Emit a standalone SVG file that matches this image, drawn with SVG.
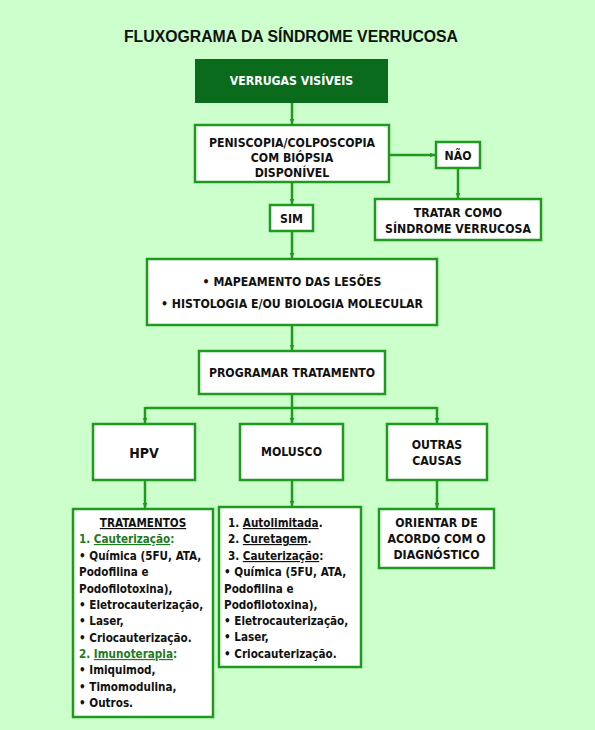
<svg xmlns="http://www.w3.org/2000/svg" width="595" height="730" viewBox="0 0 595 730">
<defs>
<marker id="ah" viewBox="0 0 10 10" refX="9" refY="5" markerWidth="6" markerHeight="6" orient="auto" markerUnits="userSpaceOnUse">
<path d="M0,1 L10,5 L0,9 z" fill="#1e9a1e"/>
</marker>
<style>
.bx{fill:#fff;stroke:#1e9a1e;stroke-width:2.5}
.t{font-family:"DejaVu Sans Condensed","DejaVu Sans",sans-serif;font-weight:bold;font-size:11.6px;fill:#111}
.k{font-size:12.2px}
.c{text-anchor:middle}
.g{fill:#1e7a1e}
.u{text-decoration:underline}
.ln{stroke:#1e9a1e;stroke-width:2.5;fill:none}
</style>
</defs>
<rect width="595" height="730" fill="#ccffcc"/>
<text x="291" y="42" text-anchor="middle" style="font-family:'Liberation Sans',Arial,sans-serif;font-weight:bold;font-size:15.8px" fill="#111">FLUXOGRAMA DA SÍNDROME VERRUCOSA</text>

<g id="connectors">
<path class="ln" d="M292,103 V124" marker-end="url(#ah)"/>
<path class="ln" d="M389,155 H435" marker-end="url(#ah)"/>
<path class="ln" d="M458,168 V198" marker-end="url(#ah)"/>
<path class="ln" d="M292,182 V204" marker-end="url(#ah)"/>
<path class="ln" d="M292,231 V258" marker-end="url(#ah)"/>
<path class="ln" d="M292,325 V350" marker-end="url(#ah)"/>
<path class="ln" d="M292,394 V408 M145,408 H437"/>
<path class="ln" d="M145,407 V423" marker-end="url(#ah)"/>
<path class="ln" d="M292,408 V423" marker-end="url(#ah)"/>
<path class="ln" d="M437,407 V423" marker-end="url(#ah)"/>
<path class="ln" d="M145,480 V508" marker-end="url(#ah)"/>
<path class="ln" d="M292,480 V506" marker-end="url(#ah)"/>
<path class="ln" d="M437,480 V508" marker-end="url(#ah)"/>
</g>

<g id="verrugas">
<rect x="195" y="59" width="193" height="44" fill="#0b6b1d"/>
<text class="t k c" x="291.5" y="85" style="fill:#fff">VERRUGAS VISÍVEIS</text>
</g>
<g id="peniscopia">
<rect class="bx" x="195" y="125" width="194" height="57"/>
<text class="t k c" x="292" y="147">PENISCOPIA/COLPOSCOPIA</text>
<text class="t k c" x="292" y="162">COM BIÓPSIA</text>
<text class="t k c" x="292" y="177">DISPONÍVEL</text>
</g>
<g id="nao">
<rect class="bx" x="436" y="142" width="44" height="26"/>
<text class="t k c" x="458" y="159.5">NÃO</text>
</g>
<g id="tratar">
<rect class="bx" x="375" y="199" width="166" height="41"/>
<text class="t k c" x="458" y="217">TRATAR COMO</text>
<text class="t k c" x="458" y="233">SÍNDROME VERRUCOSA</text>
</g>
<g id="sim">
<rect class="bx" x="270" y="205" width="43" height="26"/>
<text class="t k c" x="291.5" y="222.5">SIM</text>
</g>
<g id="mapeamento">
<rect class="bx" x="147" y="259" width="290" height="66"/>
<text class="t k c" x="292" y="286">• MAPEAMENTO DAS LESÕES</text>
<text class="t k c" x="292" y="308">• HISTOLOGIA E/OU BIOLOGIA MOLECULAR</text>
</g>
<g id="programar">
<rect class="bx" x="199" y="351" width="186" height="43"/>
<text class="t k c" x="292" y="377">PROGRAMAR TRATAMENTO</text>
</g>
<g id="hpv">
<rect class="bx" x="93" y="424" width="102" height="56"/>
<text class="t c" x="144" y="457.5" style="font-size:14px">HPV</text>
</g>
<g id="molusco">
<rect class="bx" x="240" y="424" width="103" height="56"/>
<text class="t k c" x="291.5" y="456">MOLUSCO</text>
</g>
<g id="outras">
<rect class="bx" x="387" y="424" width="100" height="56"/>
<text class="t k c" x="437" y="449">OUTRAS</text>
<text class="t k c" x="437" y="465">CAUSAS</text>
</g>
<g id="tratamentos">
<rect class="bx" x="73" y="509" width="140" height="208"/>
<text class="t c u" x="143" y="527">TRATAMENTOS</text>
<text class="t g" x="79" y="543">1. <tspan class="u">Cauterização</tspan>:</text>
<text class="t" x="79" y="560">• Química (5FU, ATA,</text>
<text class="t" x="79" y="576">Podofilina e</text>
<text class="t" x="79" y="593">Podofilotoxina),</text>
<text class="t" x="79" y="609">• Eletrocauterização,</text>
<text class="t" x="79" y="625">• Laser,</text>
<text class="t" x="79" y="642">• Criocauterização.</text>
<text class="t g" x="79" y="658">2. <tspan class="u">Imunoterapia</tspan>:</text>
<text class="t" x="79" y="674">• Imiquimod,</text>
<text class="t" x="79" y="691">• Timomodulina,</text>
<text class="t" x="79" y="707">• Outros.</text>
</g>
<g id="molusco-tratamentos">
<rect class="bx" x="219" y="507" width="142" height="160"/>
<text class="t" x="228" y="527">1. <tspan class="u">Autolimitada</tspan>.</text>
<text class="t" x="228" y="543">2. <tspan class="u">Curetagem</tspan>.</text>
<text class="t" x="228" y="560">3. <tspan class="u">Cauterização</tspan>:</text>
<text class="t" x="224" y="576">• Química (5FU, ATA,</text>
<text class="t" x="224" y="593">Podofilina e</text>
<text class="t" x="224" y="609">Podofilotoxina),</text>
<text class="t" x="224" y="625">• Eletrocauterização,</text>
<text class="t" x="224" y="641">• Laser,</text>
<text class="t" x="224" y="658">• Criocauterização.</text>
</g>
<g id="orientar">
<rect class="bx" x="379" y="509" width="115" height="59"/>
<text class="t k c" x="436.5" y="527">ORIENTAR DE</text>
<text class="t k c" x="436.5" y="543">ACORDO COM O</text>
<text class="t k c" x="436.5" y="559">DIAGNÓSTICO</text>
</g>
</svg>
